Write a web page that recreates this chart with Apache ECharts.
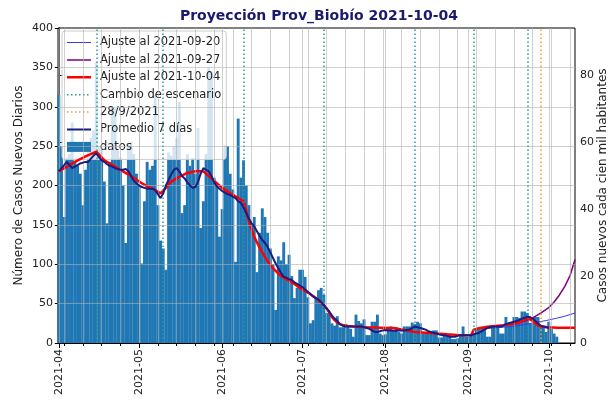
<!DOCTYPE html>
<html>
<head>
<meta charset="utf-8">
<script src="https://cdn.jsdelivr.net/npm/echarts@6/dist/echarts.min.js"></script>
<style>
  html, body { margin: 0; padding: 0; background: #fff; }
  #chart { width: 612px; height: 402px; }
</style>
</head>
<body>
<div id="chart"></div>
<script>
// x is the day number counted from 2021-04-01
const monthTicks = [0, 30, 61, 91, 122, 153, 183]
const monthLabels = ['2021-04', '2021-05', '2021-06', '2021-07', '2021-08', '2021-09', '2021-10']
// saturdays, used for the minor ticks and the weekly grid
const weekTicks = [2, 9, 16, 23, 30, 37, 44, 51, 58, 65, 72, 79, 86, 93, 100, 107, 114, 121, 128, 135, 142, 149, 156, 163, 170, 177, 184, 191]
const leftTicks = [50, 100, 150, 200, 250, 300, 350]
const rightTicks = [0, 20, 40, 60, 80]

// daily new cases, 2021-04-01 .. 2021-10-04
const dailyCases = [
  315, 250, 160, 235, 240, 280, 230, 225, 215, 175,
  220, 245, 260, 270, 357, 250, 248, 205, 152, 230,
  300, 298, 245, 235, 200, 127, 250, 255, 240, 215,
  200, 101, 180, 230, 220, 225, 315, 175, 130, 120,
  93, 242, 238, 250, 260, 306, 165, 175, 240, 225,
  235, 215, 273, 146, 180, 240, 350, 345, 210, 200,
  135, 170, 251, 250, 215, 195, 103, 285, 210, 232,
  200, 175, 152, 160, 90, 140, 171, 160, 140, 120,
  100, 42, 110, 105, 128, 100, 112, 85, 57, 70,
  93, 93, 84, 58, 25, 29, 58, 67, 70, 61,
  38, 38, 25, 22, 34, 20, 20, 24, 22, 18,
  8, 36, 28, 25, 30, 10, 10, 27, 27, 36,
  12, 10, 11, 18, 21, 16, 20, 14, 12, 21,
  21, 21, 26, 24, 27, 25, 12, 12, 14, 13,
  16, 16, 7, 7, 12, 12, 11, 5, 5, 6,
  10, 21, 8, 8, 10, 13, 18, 18, 19, 17,
  8, 8, 21, 21, 22, 12, 12, 33, 25, 25,
  33, 33, 32, 40, 40, 38, 25, 25, 33, 33,
  20, 20, 14, 27, 18, 12, 8
]

// 7 day average, 2021-04-01 .. 2021-10-01
const avg7 = [
  218, 222, 226, 230, 226, 222, 224, 226, 228, 229,
  230, 230, 234, 238, 241, 236, 232, 230, 227, 225,
  224, 222, 221, 220, 220, 221, 218, 212, 206, 203,
  200, 198, 197, 196, 196, 196, 194, 189, 184, 190,
  200, 207, 214, 220, 222, 218, 212, 209, 204, 200,
  197, 198, 205, 215, 222, 220, 218, 212, 204, 199,
  196, 193, 191, 189, 188, 186, 184, 180, 178, 172,
  165, 158, 152, 148, 142, 136, 131, 127, 122, 115,
  108, 101, 95, 89, 84, 83, 81, 80, 77, 75,
  73, 71, 68, 65, 62, 59, 57, 55, 52, 48,
  44, 40, 35, 31, 28, 24, 22, 21, 21, 21,
  21, 21, 21, 21, 20, 19, 18, 16, 14, 14,
  15, 16, 16.5, 16, 16, 15.6, 15.6, 16, 16, 16,
  16.5, 17, 19, 21, 20, 19, 18, 17, 15, 14,
  13, 12, 11, 10, 10, 9, 8, 8, 8, 9,
  10, 10, 10, 10, 10, 11, 12, 13, 15, 17,
  19, 20, 21, 21, 21, 21, 22, 24, 25, 26,
  27, 28, 29, 31, 32, 33, 33, 31, 28, 25,
  22, 21, 20, 19
]

const fit1004Days = [0, 3, 6, 10, 14, 17, 20, 24, 27, 30, 33, 35, 38, 40, 42, 45, 48, 51, 54, 57,
  61, 65, 69, 70, 71, 72, 73, 74, 75, 76, 78, 80, 82, 84, 86, 88, 90, 92, 94, 96,
  98, 99, 100, 101, 102, 103, 104, 105, 106, 108, 110, 115, 120, 125, 130, 133, 137, 141, 145, 150,
  154, 155, 156, 158, 160, 163, 166, 169, 172, 174, 175, 176, 177, 178, 179, 180, 183, 186, 192.8]
const fit1004Vals = [218, 224, 230, 237, 243, 232, 226, 218, 212, 205, 199, 196, 190, 197, 205, 211, 216, 218, 218, 209,
  197, 188, 180, 168, 155, 144, 135, 128, 121, 115, 104, 95, 88, 83, 79, 75, 70, 66, 62, 57,
  51, 48, 44, 39, 33, 29, 26, 24, 23, 21.5, 21, 20, 19.5, 19, 16, 14, 13, 12, 11, 10,
  10, 17, 18, 19.5, 20.5, 21.5, 22.5, 24, 26, 29, 31, 30, 28, 25, 22, 21, 20, 19.5, 19.5]

const fit0920Days = [158, 162, 166, 170, 174, 178, 182, 186, 189, 192.8]
const fit0920Vals = [18, 19, 20, 21.5, 23.5, 26, 28.5, 31.5, 34, 38]

const fit0927Days = [170, 174, 177, 180, 183, 185, 187, 189, 191, 192.8]
const fit0927Vals = [24, 28, 32, 38, 45, 52, 61, 72, 86, 106]

const scenarioDays = [14, 39, 69, 99, 133, 155, 175]
const cutDay = 180 // 28/9/2021

const rightMax = 94 // 400 cases per day in cases per 100k inhabitants

const font = 'DejaVu Sans'
const pairs = (xs, ys) => xs.map((x, i) => [x, ys[i]])

// legend icons: a 24x10 box with a line (or dots) across the middle
const box = 'path://M0,0L0.01,0M24,10L23.99,10'
const lineIcon = w => `${box}M0,${5 - w / 2}H24V${5 + w / 2}H0Z`
const dotIcon = w => {
  let p = box
  for (let x = 0; x + w <= 24; x += 4) p += `M${x},${5 - w / 2}h${w}v${w}h${-w}Z`
  return p
}

const chart = echarts.init(document.getElementById('chart'))

const xBase = { type: 'value', min: -0.3, max: 192.8, splitLine: { show: false } }

chart.setOption({
  animation: false,
  title: {
    text: 'Proyección Prov_Biobío 2021-10-04',
    left: 314,
    textAlign: 'center',
    top: 4,
    textStyle: { fontFamily: font, fontSize: 14, fontWeight: 'bold', color: '#191970' }
  },
  grid: {
    left: 58, right: 37, top: 28, bottom: 59,
    outerBoundsMode: 'none',
    show: true, borderColor: '#000', borderWidth: 1
  },
  legend: {
    orient: 'vertical',
    left: 62,
    top: 31,
    padding: [5, 5, 6, 5],
    itemWidth: 24,
    itemHeight: 10,
    itemGap: 4.4,
    backgroundColor: 'rgba(255,255,255,0.8)',
    borderColor: '#ccc',
    borderWidth: 1,
    borderRadius: 3,
    textStyle: { fontFamily: font, fontSize: 11.5, color: '#222', lineHeight: 13, padding: [0, 0, 0, 4] },
    data: [
      { name: 'Ajuste al 2021-09-20', icon: lineIcon(1) },
      { name: 'Ajuste al 2021-09-27', icon: lineIcon(1.5) },
      { name: 'Ajuste al 2021-10-04', icon: lineIcon(2.5) },
      { name: 'Cambio de escenario', icon: dotIcon(1.5) },
      { name: '28/9/2021', icon: dotIcon(1.5) },
      { name: 'Promedio 7 días', icon: lineIcon(2) },
      { name: 'datos', icon: 'rect' }
    ]
  },
  xAxis: [
    {
      ...xBase,
      position: 'bottom',
      axisLine: { lineStyle: { color: '#000' } },
      axisTick: { customValues: monthTicks, length: 5, lineStyle: { color: '#000' } },
      axisLabel: {
        customValues: monthTicks,
        rotate: 90,
        margin: 6,
        fontFamily: font,
        fontSize: 11,
        color: '#222',
        formatter: v => monthLabels[monthTicks.indexOf(Math.round(v))] || ''
      }
    },
    {
      ...xBase,
      position: 'bottom',
      axisLine: { show: false },
      axisTick: { customValues: weekTicks, length: 3, lineStyle: { color: '#000' } },
      axisLabel: { show: false }
    }
  ],
  yAxis: [
    {
      type: 'value',
      position: 'left',
      min: 0,
      max: 400,
      interval: 50,
      name: 'Número de Casos Nuevos Diarios',
      nameLocation: 'middle',
      nameGap: 33,
      nameMoveOverlap: false,
      nameTextStyle: { fontFamily: font, fontSize: 12, color: '#222' },
      axisLine: { show: true, lineStyle: { color: '#000' } },
      axisTick: { show: true, length: 4, lineStyle: { color: '#000' } },
      axisLabel: { fontFamily: font, fontSize: 11, color: '#222', margin: 5 },
      splitLine: { show: false }
    },
    {
      type: 'value',
      position: 'right',
      min: 0,
      max: rightMax,
      name: 'Casos nuevos cada cien mil habitantes',
      nameLocation: 'middle',
      nameRotate: 90,
      nameGap: 22,
      nameMoveOverlap: false,
      nameTextStyle: { fontFamily: font, fontSize: 12, color: '#222' },
      axisLine: { show: true, lineStyle: { color: '#000' } },
      axisTick: { show: true, customValues: rightTicks, length: 4, lineStyle: { color: '#000' } },
      axisLabel: { customValues: rightTicks, fontFamily: font, fontSize: 11, color: '#222', margin: 5 },
      splitLine: { show: false }
    }
  ],
  series: [
    {
      name: 'datos',
      type: 'bar',
      data: dailyCases.map((v, i) => [i, v]),
      barWidth: 2.9,
      itemStyle: { color: '#1f77b4' },
      z: 1
    },
    {
      // grid drawn over the bars, like the original
      type: 'line',
      data: [],
      silent: true,
      z: 2,
      markLine: {
        silent: true,
        symbol: ['none', 'none'],
        label: { show: false },
        lineStyle: { color: 'rgba(176,176,176,0.6)', width: 1, type: 'solid' },
        data: monthTicks.concat(weekTicks).map(v => ({ xAxis: v }))
          .concat(leftTicks.map(v => ({ yAxis: v })))
      }
    },
    {
      name: 'Ajuste al 2021-09-20',
      type: 'line',
      data: pairs(fit0920Days, fit0920Vals),
      symbol: 'none',
      itemStyle: { color: '#3a3ae0' },
      lineStyle: { color: '#3a3ae0', width: 1 },
      z: 3
    },
    {
      name: 'Ajuste al 2021-09-27',
      type: 'line',
      data: pairs(fit0927Days, fit0927Vals),
      symbol: 'none',
      itemStyle: { color: '#800080' },
      lineStyle: { color: '#800080', width: 1.5 },
      z: 3
    },
    {
      name: 'Ajuste al 2021-10-04',
      type: 'line',
      data: pairs(fit1004Days, fit1004Vals),
      symbol: 'none',
      itemStyle: { color: '#ff0000' },
      lineStyle: { color: '#ff0000', width: 2.5 },
      z: 4
    },
    {
      name: 'Cambio de escenario',
      type: 'line',
      data: [],
      symbol: 'none',
      itemStyle: { color: '#2a9d8f' },
      lineStyle: { color: '#2a9d8f', width: 1.5, type: [1.5, 2.5] },
      z: 3,
      markLine: {
        silent: true,
        symbol: ['none', 'none'],
        label: { show: false },
        lineStyle: { color: '#2a9d8f', width: 1.5, type: [1.5, 2.5] },
        data: scenarioDays.map(v => ({ xAxis: v }))
      }
    },
    {
      name: '28/9/2021',
      type: 'line',
      data: [],
      symbol: 'none',
      itemStyle: { color: '#f5a03a' },
      lineStyle: { color: '#f5a03a', width: 1.5, type: [1.5, 2.5] },
      z: 3,
      markLine: {
        silent: true,
        symbol: ['none', 'none'],
        label: { show: false },
        lineStyle: { color: '#f5a03a', width: 1.5, type: [1.5, 2.5] },
        data: [{ xAxis: cutDay }]
      }
    },
    {
      name: 'Promedio 7 días',
      type: 'line',
      data: avg7.map((v, i) => [i, v]),
      symbol: 'none',
      itemStyle: { color: '#1c1c80' },
      lineStyle: { color: '#1c1c80', width: 2 },
      z: 5
    }
  ]
})
</script>
</body>
</html>
